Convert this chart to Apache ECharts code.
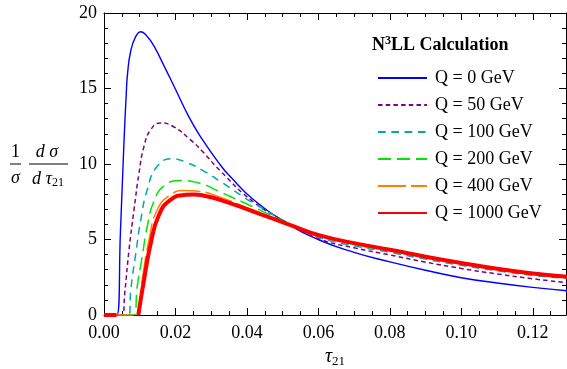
<!DOCTYPE html>
<html>
<head>
<meta charset="utf-8">
<script src="https://cdn.jsdelivr.net/npm/echarts@6/dist/echarts.min.js"></script>
<style>
  html, body { margin: 0; padding: 0; background: #fff; }
  #chart { width: 567px; height: 369px; }
</style>
</head>
<body>
<div id="chart"></div>
<script>
// values (tau21 -> 1/sigma dsigma/dtau21)
const seriesNames = ["Q = 0 GeV", "Q = 50 GeV", "Q = 100 GeV", "Q = 200 GeV", "Q = 400 GeV", "Q = 1000 GeV"];

const tauQ0 = [0, 0.0036, 0.0046, 0.0056, 0.0062, 0.0066, 0.0075, 0.0089, 0.0103, 0.0121, 0.014, 0.0168, 0.0196, 0.0238, 0.0269, 0.0325, 0.0352, 0.0418, 0.052, 0.0604, 0.07, 0.08, 0.09, 0.1, 0.11, 0.12, 0.13];
const valQ0 = [0, 0, 5.5, 11.5, 14.5, 16.0, 17.5, 18.45, 18.76, 18.45, 17.8, 16.5, 15.15, 13.1, 11.85, 9.95, 9.2, 7.65, 5.97, 4.95, 4.15, 3.52, 2.96, 2.47, 2.12, 1.83, 1.6];

const tauQ50 = [0, 0.0051, 0.0058, 0.007, 0.0084, 0.0098, 0.0112, 0.0131, 0.0158, 0.0196, 0.0242, 0.0275, 0.0325, 0.0418, 0.052, 0.0604, 0.07, 0.08, 0.09, 0.1, 0.11, 0.12, 0.13];
const valQ50 = [0, 0, 1.44, 4.31, 6.97, 9.4, 11.17, 12.28, 12.72, 12.45, 11.6, 10.85, 9.55, 7.5, 6.02, 5.02, 4.45, 3.98, 3.5, 3.08, 2.72, 2.4, 2.12];

const tauQ100 = [0, 0.007, 0.0075, 0.0089, 0.0103, 0.0121, 0.0149, 0.0191, 0.0233, 0.0275, 0.0325, 0.0418, 0.052, 0.0604, 0.07, 0.08, 0.09, 0.1, 0.11, 0.12, 0.13];
const valQ100 = [0, 0, 1.66, 4.09, 6.3, 8.3, 9.85, 10.35, 10.08, 9.6, 8.85, 7.41, 6.05, 5.12, 4.58, 4.15, 3.7, 3.29, 2.93, 2.62, 2.42];

const tauQ200 = [0, 0.0084, 0.0093, 0.0107, 0.0121, 0.014, 0.0168, 0.0214, 0.0266, 0.0325, 0.0418, 0.052, 0.0604, 0.07, 0.08, 0.09, 0.1, 0.11, 0.12, 0.13];
const valQ200 = [0, 0, 1.88, 3.87, 5.86, 7.55, 8.55, 8.9, 8.74, 8.15, 7.15, 6.02, 5.22, 4.68, 4.25, 3.82, 3.4, 3.04, 2.74, 2.53];

const tauQ400 = [0, 0.0093, 0.0107, 0.0126, 0.0149, 0.0186, 0.0228, 0.027, 0.0325, 0.0418, 0.052, 0.0604, 0.07, 0.08, 0.09, 0.1, 0.11, 0.12, 0.13];
const valQ400 = [0, 0, 2.32, 4.98, 6.97, 7.96, 8.25, 8.18, 7.8, 6.95, 6.0, 5.3, 4.8, 4.36, 3.9, 3.48, 3.11, 2.8, 2.58];

const tauQ1000 = [0, 0.0035, 0.006, 0.0096, 0.0112, 0.0131, 0.0154, 0.0186, 0.0228, 0.0252, 0.028, 0.0325, 0.0418, 0.052, 0.0604, 0.07, 0.08, 0.09, 0.1, 0.11, 0.12, 0.13];
const valQ1000 = [0, 0, null, 0, 2.32, 4.76, 6.64, 7.63, 7.96, 7.98, 7.9, 7.63, 6.85, 5.97, 5.27, 4.76, 4.32, 3.86, 3.44, 3.06, 2.75, 2.53];

const xTicks = [0, 0.02, 0.04, 0.06, 0.08, 0.1, 0.12];
const yTicks = [0, 5, 10, 15, 20];

const serif = "Liberation Serif";
const chart = echarts.init(document.getElementById("chart"), null, { renderer: "canvas" });

const pair = (xs, ys) => xs.map((x, i) => [x, ys[i]]);
const curves = [
  { tau: tauQ0, val: valQ0, color: "#0000ff", width: 1.4, type: "solid" },
  { tau: tauQ50, val: valQ50, color: "#800080", width: 1.5, type: [4.5, 3.2] },
  { tau: tauQ100, val: valQ100, color: "#00aaaa", width: 1.5, type: [7.7, 5.6] },
  { tau: tauQ200, val: valQ200, color: "#00e600", width: 1.5, type: [13, 6] },
  { tau: tauQ400, val: valQ400, color: "#ff8000", width: 1.5, type: [28, 5] },
  { tau: tauQ1000, val: valQ1000, color: "#ff0000", width: 4, type: "solid" },
];

const frameX = (pos, labels) => ({
  type: "value",
  position: pos,
  min: 0,
  max: 0.1293,
  interval: 0.02,
  axisLine: { show: true, onZero: false, lineStyle: { color: "#000", width: 1 } },
  axisTick: { show: true, inside: true, length: 7, lineStyle: { color: "#000" } },
  minorTick: { show: true, splitNumber: 4, length: 4, lineStyle: { color: "#000" } },
  splitLine: { show: false },
  axisLabel: {
    show: labels,
    showMaxLabel: false,
    margin: 9,
    color: "#000",
    fontFamily: serif,
    fontSize: 18,
    formatter: (v) => (xTicks.some((t) => Math.abs(t - v) < 1e-9) ? v.toFixed(2) : ""),
  },
});

const frameY = (pos, labels) => ({
  type: "value",
  position: pos,
  min: 0,
  max: 20,
  interval: 5,
  axisLine: { show: true, onZero: false, lineStyle: { color: "#000", width: 1 } },
  axisTick: { show: true, inside: true, length: 7, lineStyle: { color: "#000" } },
  minorTick: { show: true, splitNumber: 5, length: 4, lineStyle: { color: "#000" } },
  splitLine: { show: false },
  axisLabel: {
    show: labels,
    margin: 7,
    color: "#000",
    fontFamily: serif,
    fontSize: 18,
    formatter: (v) => (yTicks.includes(v) ? String(v) : ""),
  },
});

const xBottom = frameX("bottom", true);
xBottom.name = "{t|τ}{s|21}";
xBottom.nameLocation = "middle";
xBottom.nameGap = 30;
xBottom.nameTextStyle = {
  rich: {
    t: { fontFamily: serif, fontSize: 20, fontStyle: "italic", color: "#000" },
    s: { fontFamily: serif, fontSize: 13, color: "#000", padding: [9, 0, 0, 0] },
  },
};

chart.setOption({
  animation: false,
  backgroundColor: "#fff",
  textStyle: { fontFamily: serif, color: "#000" },
  grid: { left: 104, top: 13, right: 1, bottom: 54, containLabel: false, outerBoundsMode: "none" },
  xAxis: [xBottom, frameX("top", false)],
  yAxis: [frameY("left", true), frameY("right", false)],
  legend: {
    orient: "vertical",
    left: 372,
    top: 63,
    itemWidth: 49,
    itemHeight: 14,
    itemGap: 7,
    data: seriesNames,
    itemStyle: { opacity: 0 },
    textStyle: { fontFamily: serif, fontSize: 18, color: "#000", lineHeight: 20, padding: [0, 0, 0, 3] },
  },
  graphic: [
    {
      type: "text",
      x: 372,
      y: 45,
      style: {
        text: "{b|N}{s|3}{b|LL Calculation}",
        verticalAlign: "middle",
        rich: {
          b: { fontFamily: serif, fontSize: 18, fontWeight: "bold", fill: "#000" },
          s: { fontFamily: serif, fontSize: 12, fontWeight: "bold", fill: "#000", padding: [0, 0, 9, 0] },
        },
      },
    },
    { type: "text", x: 15.5, y: 152, style: { text: "1", font: "18px " + serif, fill: "#000", align: "center", verticalAlign: "middle" } },
    { type: "line", shape: { x1: 10, y1: 164, x2: 21, y2: 164 }, style: { stroke: "#000", lineWidth: 1 } },
    { type: "text", x: 15.5, y: 178, style: { text: "σ", font: "italic 18px " + serif, fill: "#000", align: "center", verticalAlign: "middle" } },
    { type: "text", x: 47, y: 152, style: { text: "d σ", font: "italic 18px " + serif, fill: "#000", align: "center", verticalAlign: "middle" } },
    { type: "line", shape: { x1: 29, y1: 164, x2: 68, y2: 164 }, style: { stroke: "#000", lineWidth: 1 } },
    {
      type: "text",
      x: 48,
      y: 179,
      style: {
        text: "{i|d τ}{s|21}",
        align: "center",
        verticalAlign: "middle",
        rich: {
          i: { fontFamily: serif, fontSize: 18, fontStyle: "italic", fill: "#000" },
          s: { fontFamily: serif, fontSize: 12, fill: "#000", padding: [8, 0, 0, 0] },
        },
      },
    },
  ],
  series: curves.map((c, i) => ({
    name: seriesNames[i],
    type: "line",
    xAxisIndex: 0,
    yAxisIndex: 0,
    data: pair(c.tau, c.val),
    showSymbol: false,
    symbol: "none",
    smooth: 0.5,
    connectNulls: false,
    lineStyle: { color: c.color, width: c.width, type: c.type },
    itemStyle: { color: c.color },
    z: 2 + i,
  })),
});
</script>
</body>
</html>
